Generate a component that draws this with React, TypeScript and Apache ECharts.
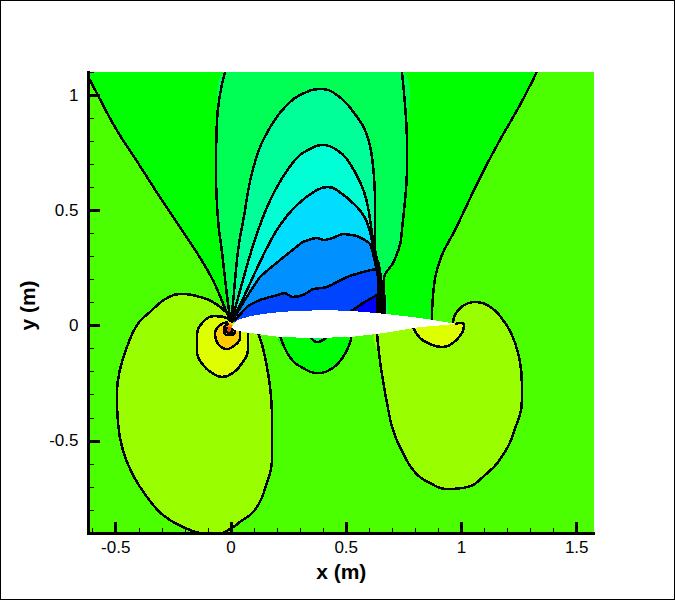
import React, { useEffect, useRef } from "react";
import * as echarts from "echarts";

type P = [number, number];

const xMajorTicks = [-0.5, 0, 0.5, 1, 1.5];
const xMinorTicks = [-0.6, -0.4, -0.3, -0.2, -0.1, 0.1, 0.2, 0.3, 0.4, 0.6, 0.7, 0.8, 0.9, 1.1, 1.2, 1.3, 1.4];
const yMajorTicks = [-0.5, 0, 0.5, 1];
const yMinorTicks = [-0.9, -0.8, -0.7, -0.6, -0.4, -0.3, -0.2, -0.1, 0.1, 0.2, 0.3, 0.4, 0.6, 0.7, 0.8, 0.9, 1.1];

const wedgeLeft: P[] = [[-0.62, 1.074], [-0.612, 1.065], [-0.573, 0.991], [-0.525, 0.9], [-0.482, 0.826], [-0.403, 0.705], [-0.308, 0.557], [-0.221, 0.427], [-0.147, 0.315], [-0.078, 0.197], [-0.017, 0.054], [0, 0.015]];
const wedgeRight: P[] = [[0.872, 0.024], [0.876, 0.124], [0.907, 0.284], [0.972, 0.414], [1.08, 0.64], [1.167, 0.805], [1.254, 0.957], [1.327, 1.1]];
const level2Left: P[] = [[-0.026, 1.1], [-0.061, 0.883], [-0.065, 0.666], [-0.056, 0.458], [-0.039, 0.319], [-0.013, 0.098], [0, 0.015]];
const level2Right: P[] = [[0.668, 0.041], [0.664, 0.206], [0.703, 0.271], [0.733, 0.349], [0.742, 0.414], [0.763, 0.666], [0.763, 0.809], [0.742, 1.1]];
const level3: P[] = [[0, 0.015], [0.009, 0.098], [0.03, 0.319], [0.052, 0.449], [0.104, 0.709], [0.178, 0.874], [0.247, 0.961], [0.299, 1.0], [0.39, 1.026], [0.46, 1.0], [0.538, 0.917], [0.59, 0.826], [0.616, 0.696], [0.625, 0.523], [0.625, 0.319], [0.642, 0.262], [0.659, 0.111], [0.659, 0.041]];
const level4: P[] = [[0, 0.015], [0.022, 0.089], [0.087, 0.319], [0.134, 0.458], [0.161, 0.523], [0.204, 0.609], [0.278, 0.718], [0.343, 0.766], [0.403, 0.783], [0.46, 0.761], [0.503, 0.722], [0.56, 0.623], [0.59, 0.536], [0.616, 0.375], [0.633, 0.284], [0.651, 0.111], [0.651, 0.041]];
const level5: P[] = [[0, 0.015], [0.039, 0.089], [0.147, 0.319], [0.213, 0.436], [0.286, 0.523], [0.373, 0.588], [0.421, 0.601], [0.46, 0.588], [0.547, 0.514], [0.59, 0.449], [0.616, 0.349], [0.633, 0.275], [0.646, 0.176], [0.646, 0.041]];
const level6: P[] = [[0, 0.015], [0.026, 0.054], [0.069, 0.124], [0.126, 0.21], [0.213, 0.284], [0.256, 0.319], [0.312, 0.362], [0.373, 0.38], [0.403, 0.371], [0.442, 0.38], [0.486, 0.397], [0.547, 0.388], [0.603, 0.354], [0.625, 0.275], [0.642, 0.176], [0.642, 0.041]];
const level7: P[] = [[0, 0.015], [0.026, 0.033], [0.069, 0.08], [0.126, 0.111], [0.2, 0.132], [0.234, 0.141], [0.265, 0.124], [0.312, 0.132], [0.356, 0.158], [0.416, 0.167], [0.503, 0.21], [0.573, 0.232], [0.633, 0.245], [0.638, 0.154], [0.638, 0.041]];
const level8: P[] = [[0.503, 0.05], [0.516, 0.059], [0.573, 0.098], [0.633, 0.132], [0.633, 0.041]];

const leftLobe: P[] = [[0, 0.015], [-0.017, 0.054], [-0.078, 0.102], [-0.134, 0.124], [-0.208, 0.137], [-0.278, 0.119], [-0.351, 0.059], [-0.408, 0.002], [-0.451, -0.093], [-0.482, -0.193], [-0.495, -0.293], [-0.49, -0.423], [-0.469, -0.54], [-0.425, -0.649], [-0.364, -0.744], [-0.295, -0.822], [-0.208, -0.874], [-0.134, -0.9], [-0.061, -0.905], [0.004, -0.878], [0.039, -0.852], [0.104, -0.8], [0.156, -0.683], [0.178, -0.57], [0.178, -0.41], [0.174, -0.31], [0.161, -0.206], [0.139, -0.098], [0.117, -0.03]];
const leftYellow: P[] = [[0, 0.015], [-0.017, 0.033], [-0.069, 0.041], [-0.121, 0.015], [-0.147, -0.041], [-0.147, -0.115], [-0.121, -0.171], [-0.082, -0.206], [-0.039, -0.223], [0.009, -0.206], [0.052, -0.158], [0.074, -0.106], [0.074, -0.025]];
const leftAmber: P[] = [[-0.013, 0.015], [-0.048, 0.002], [-0.069, -0.033], [-0.061, -0.072], [-0.017, -0.102], [0.017, -0.085], [0.039, -0.054], [0.039, -0.024]];
const leftOrange: P[] = [[-0.009, 0.007], [-0.026, -0.002], [-0.03, -0.02], [-0.017, -0.041], [0.004, -0.041], [0.017, -0.024], [0.013, -0.011]];
const leftRed: P[] = [[-0.013, -0.007], [-0.022, -0.02], [-0.009, -0.033], [0.004, -0.024], [0.004, -0.011]];

const rightLobe: P[] = [[0.633, -0.03], [0.646, -0.15], [0.659, -0.236], [0.677, -0.336], [0.703, -0.453], [0.746, -0.553], [0.798, -0.636], [0.863, -0.683], [0.941, -0.709], [1.024, -0.701], [1.093, -0.657], [1.18, -0.562], [1.241, -0.423], [1.262, -0.323], [1.262, -0.249], [1.254, -0.158], [1.223, -0.05], [1.18, 0.024], [1.132, 0.076], [1.058, 0.102], [1.006, 0.085], [0.972, 0.046], [0.963, 0.005]];
const rightYellow: P[] = [[0.79, -0.008], [0.82, -0.054], [0.863, -0.08], [0.915, -0.093], [0.963, -0.076], [1.002, -0.033], [1.011, 0.002], [0.998, 0.011], [0.972, 0.007]];

const underGreen: P[] = [[0.213, -0.045], [0.256, -0.137], [0.312, -0.184], [0.377, -0.206], [0.442, -0.184], [0.486, -0.137], [0.516, -0.076], [0.521, -0.045]];
const underSmall: P[] = [[0.345, -0.05], [0.351, -0.059], [0.373, -0.072], [0.408, -0.059], [0.415, -0.05]];

const airfoil: P[] = [[0.004, -0.007], [0.013, 0.011], [0.03, 0.024], [0.082, 0.041], [0.169, 0.054], [0.269, 0.063], [0.416, 0.067], [0.529, 0.063], [0.677, 0.05], [0.82, 0.033], [0.876, 0.024], [0.98, 0.007], [0.82, -0.007], [0.79, -0.011], [0.659, -0.033], [0.516, -0.05], [0.356, -0.054], [0.213, -0.05], [0.117, -0.037], [0.052, -0.028], [0.017, -0.02]];

const topLeftCorner: P = [-0.62, 1.1];

const colors = {
  wedge: "#00ff00", level2: "#00ff55", level3: "#00ff99", level4: "#00ffd5",
  level5: "#00ddff", level6: "#0090ff", level7: "#0044ff", level8: "#0000ff",
  lobe: "#99ff00", yellow: "#ddff00", amber: "#ffcc00", orange: "#ff8800", red: "#ff4400",
  base: "#4cff00",
};

export default function App() {
  const ref = useRef<HTMLDivElement>(null);
  useEffect(() => {
    document.body.style.margin = "0";
    const chart = echarts.init(ref.current!, undefined, { renderer: "svg" });
    let z = 2;
    const fill = (pts: P[], color: string, smooth = 0.45) => ({
      type: "custom", coordinateSystem: "cartesian2d", clip: true, silent: true, z: z++,
      data: pts,
      renderItem: (params: any, api: any) =>
        params.dataIndex === 0
          ? { type: "polygon", shape: { points: pts.map((p) => api.coord(p)), smooth }, style: { fill: color, stroke: "none" } }
          : null,
    });
    const line = ([pts, smooth]: [P[], number]) => ({
      type: "line", data: pts, showSymbol: false, symbol: "none", silent: true, z: z++, clip: true,
      smooth,
      lineStyle: { color: "#000", width: 2.5 },
    });
    const outlines: [P[], number][] = [
      [wedgeLeft, 0.3], [wedgeRight, 0.45], [level2Left, 0.45], [level2Right, 0.3],
      [level3, 0.45], [level4, 0.45], [level5, 0.4], [level6, 0.2], [level7, 0.2], [level8, 0],
      [underGreen, 0.45], [underSmall, 0.3], [leftLobe, 0.45], [leftYellow, 0.45], [leftAmber, 0.45],
      [leftOrange, 0.45], [leftRed, 0.45], [rightLobe, 0.45], [rightYellow, 0.45],
    ];
    const series: any[] = [
      fill([topLeftCorner, ...wedgeLeft, ...wedgeRight], colors.wedge, 0),
      fill([...level2Left, ...level2Right], colors.level2, 0.3),
      fill(level3, colors.level3),
      fill(level4, colors.level4),
      fill(level5, colors.level5, 0.4),
      fill(level6, colors.level6, 0.2),
      fill(level7, colors.level7, 0.2),
      fill(level8, colors.level8, 0),
      fill(underGreen, colors.wedge),
      fill(underSmall, colors.level2, 0.3),
      fill(leftLobe, colors.lobe),
      fill(leftYellow, colors.yellow),
      fill(leftAmber, colors.amber),
      fill(leftOrange, colors.orange),
      fill(leftRed, colors.red),
      fill(rightLobe, colors.lobe),
      fill(rightYellow, colors.yellow),
      ...outlines.map(line),
      fill(airfoil, "#ffffff", 0),
    ];
    const font = "Liberation Sans";
    const baseAxis = { type: "value", splitLine: { show: false }, z: 500, scale: true };
    chart.setOption({
      animation: false,
      graphic: [{
        type: "rect", z: 600, silent: true,
        shape: { x: 0.5, y: 0.5, width: 674, height: 599 },
        style: { fill: "none", stroke: "#000", lineWidth: 1 },
      }],
      grid: { left: 88.5, top: 72, width: 505.5, height: 461, show: true, backgroundColor: colors.base, borderWidth: 0 },
      xAxis: [
        {
          ...baseAxis, position: "bottom", min: -0.618, max: 1.575,
          name: "x (m)", nameLocation: "middle", nameGap: 23,
          nameTextStyle: { fontFamily: font, fontSize: 21, fontWeight: "bold", color: "#000" },
          axisLine: { show: true, onZero: false, lineStyle: { color: "#000", width: 3 } },
          axisTick: { show: true, inside: true, length: 11, customValues: xMajorTicks, lineStyle: { color: "#000", width: 3 } },
          axisLabel: { show: true, customValues: xMajorTicks, margin: 6, fontFamily: font, fontSize: 17, color: "#000", hideOverlap: false },
        },
        {
          ...baseAxis, position: "bottom", min: -0.618, max: 1.575,
          axisLine: { show: false, onZero: false },
          axisTick: { show: true, inside: true, length: 5, customValues: xMinorTicks, lineStyle: { color: "#000", width: 1 } },
          axisLabel: { show: false },
        },
      ],
      yAxis: [
        {
          ...baseAxis, position: "left", min: -0.9, max: 1.1,
          name: "y (m)", nameLocation: "middle", nameGap: 34,
          nameTextStyle: { fontFamily: font, fontSize: 21, fontWeight: "bold", color: "#000", padding: [0, 6, 0, 0] },
          axisLine: { show: true, onZero: false, lineStyle: { color: "#000", width: 3 } },
          axisTick: { show: true, inside: true, length: 11, customValues: yMajorTicks, lineStyle: { color: "#000", width: 3 } },
          axisLabel: { show: true, customValues: yMajorTicks, margin: 10, fontFamily: font, fontSize: 17, color: "#000", hideOverlap: false },
        },
        {
          ...baseAxis, position: "left", min: -0.9, max: 1.1,
          axisLine: { show: false, onZero: false },
          axisTick: { show: true, inside: true, length: 5, customValues: yMinorTicks, lineStyle: { color: "#000", width: 1 } },
          axisLabel: { show: false },
        },
      ],
      series,
    });
    return () => chart.dispose();
  }, []);
  return <div ref={ref} style={{ width: 675, height: 600, shapeRendering: "crispEdges" }} />;
}
